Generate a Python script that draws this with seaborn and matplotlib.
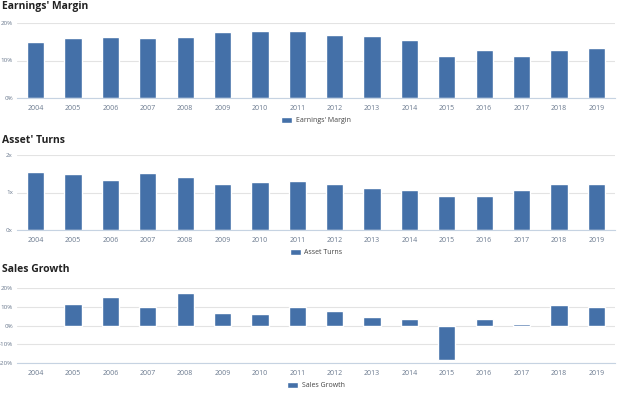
import numpy as np
import pandas as pd
import matplotlib
matplotlib.use("Agg")
import matplotlib.pyplot as plt
import seaborn as sns

# dados
anos = [str(a) for a in range(2004, 2020)]
margem = [14.9, 15.9, 16.2, 15.9, 16.2, 17.5, 18.0, 17.8, 16.9, 16.6, 15.6, 11.2, 12.7, 11.2, 12.7, 13.3]
giro = [1.54, 1.49, 1.34, 1.51, 1.41, 1.22, 1.28, 1.30, 1.22, 1.13, 1.06, 0.90, 0.92, 1.06, 1.23, 1.24]
crescimento = [np.nan, 11.5, 15.2, 9.7, 17.5, 6.7, 6.0, 9.9, 7.6, 4.6, 3.4, -18.4, 3.7, 0.9, 11.2, 9.9]

titulos = ["Earnings' Margin", "Asset' Turns", "Sales Growth"]
legendas = ["Earnings' Margin", "Asset Turns", "Sales Growth"]
yticks = [[0, 10, 20], [0, 1, 2], [-20, -10, 0, 10, 20]]
yticklabels = [["0%", "10%", "20%"], ["0x", "1x", "2x"], ["-20%", "-10%", "0%", "10%", "20%"]]
ylims = [(0, 20), (0, 2), (-20, 20)]

sns.set_style("white")
plt.rcParams['font.family'] = ['Open Sans', 'DejaVu Sans']

cor_barra = "#4470a8"
cor_texto = "#6b7a8f"

fig = plt.figure(figsize=(6.24, 3.93), dpi=100)
H = 393.0
# (topo, base) de cada painel em pixels
paineis = [(23, 98), (155, 230), (288, 363)]
titulo_y = [7, 140, 270]

for i, serie in enumerate([margem, giro, crescimento]):
    top, bot = paineis[i]
    ax = fig.add_axes([17 / 624, 1 - bot / H, 598 / 624, (bot - top) / H])
    df = pd.DataFrame({"ano": anos, "valor": serie})
    sns.barplot(data=df, x="ano", y="valor", order=anos, color=cor_barra,
                saturation=1, width=0.46, label=legendas[i], ax=ax, errorbar=None)
    ax.set_ylim(*ylims[i])
    ax.set_xlim(-0.5, len(anos) - 0.5)
    ax.set_yticks(yticks[i])
    ax.set_yticklabels(yticklabels[i])
    ax.set_xlabel("")
    ax.set_ylabel("")
    ax.grid(axis="y", color="#e3e3e3", linewidth=0.8)
    ax.set_axisbelow(True)
    for s in ["top", "right", "left"]:
        ax.spines[s].set_visible(False)
    ax.spines["bottom"].set_color("#c6d3e2")
    ax.spines["bottom"].set_linewidth(0.8)
    ax.set_xticks(np.arange(-0.5, len(anos), 1), minor=True)
    ax.tick_params(axis="x", which="major", length=0, labelsize=5, labelcolor=cor_texto, pad=5)
    ax.tick_params(axis="x", which="minor", length=4, color="#c6d3e2", width=0.8)
    ax.tick_params(axis="y", length=0, labelsize=4.5, labelcolor=cor_texto, pad=3)
    leg = ax.legend(loc="upper center", bbox_to_anchor=(0.5, -0.17), frameon=False,
                    fontsize=5, handlelength=1.6, handleheight=0.9, handletextpad=0.5)
    for t in leg.get_texts():
        t.set_color("#444444")
    fig.text(2 / 624, 1 - titulo_y[i] / H, titulos[i], fontsize=7.5, fontweight="bold",
             color="#222222", ha="left", va="center")

fig.savefig("out.png", dpi=100)
